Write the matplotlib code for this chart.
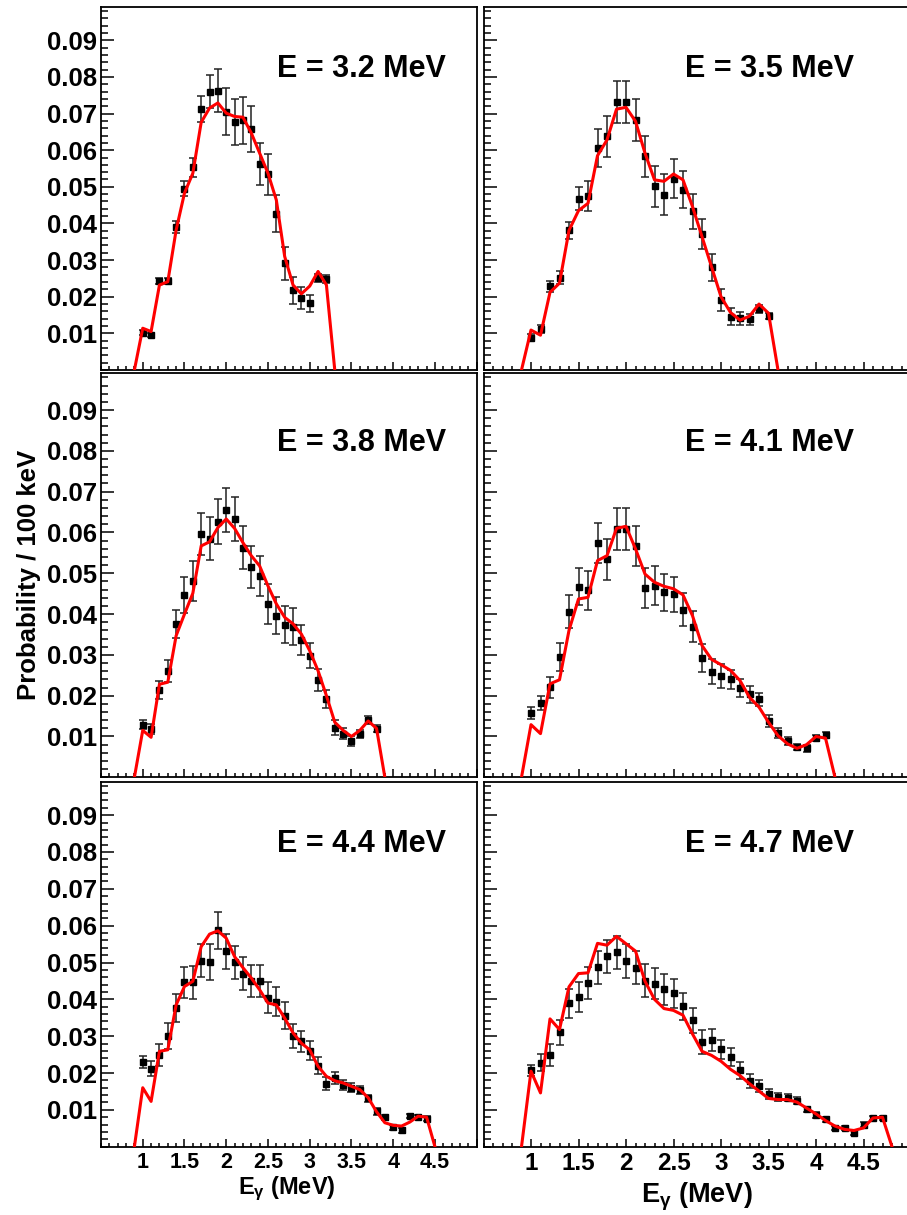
"""Photon spectra for six excitation energies: data points with errors and model curve."""

import matplotlib

matplotlib.use("Agg")
import matplotlib.pyplot as plt
from matplotlib.ticker import MultipleLocator, FixedLocator, NullFormatter

plt.rcParams["font.family"] = ["Liberation Sans", "DejaVu Sans"]
plt.rcParams["font.weight"] = "bold"
plt.rcParams["mathtext.fontset"] = "custom"
plt.rcParams["mathtext.rm"] = "Liberation Sans:bold"
plt.rcParams["mathtext.it"] = "Liberation Sans"
plt.rcParams["mathtext.default"] = "regular"

# photon energy grid (MeV), model curve starts one bin below the first data point
MODEL_X = [0.9, 1.0, 1.1, 1.2, 1.3, 1.4, 1.5, 1.6, 1.7, 1.8, 1.9, 2.0, 2.1, 2.2,
           2.3, 2.4, 2.5, 2.6, 2.7, 2.8, 2.9, 3.0, 3.1, 3.2, 3.3, 3.4, 3.5, 3.6,
           3.7, 3.8, 3.9, 4.0, 4.1, 4.2, 4.3, 4.4, 4.5, 4.6, 4.7, 4.8]

LABELS = ["E = 3.2 MeV", "E = 3.5 MeV", "E = 3.8 MeV",
          "E = 4.1 MeV", "E = 4.4 MeV", "E = 4.7 MeV"]

DATA_32 = [0.0102, 0.0095, 0.0243, 0.0243, 0.0390, 0.0495, 0.0553, 0.0712, 0.0760,
           0.0762, 0.0705, 0.0677, 0.0682, 0.0658, 0.0562, 0.0534, 0.0427, 0.0291,
           0.0217, 0.0197, 0.0182, 0.0252, 0.0248]
ERR_32 = [0.0006, 0.0005, 0.0007, 0.0009, 0.0016, 0.0020, 0.0026, 0.0035, 0.0044,
          0.0059, 0.0064, 0.0064, 0.0064, 0.0062, 0.0058, 0.0055, 0.0051, 0.0046,
          0.0037, 0.0030, 0.0023, 0.0011, 0.0011]
MODEL_32 = [0.0, 0.0114, 0.0105, 0.0232, 0.0241, 0.0382, 0.0483, 0.0537, 0.0676,
            0.0715, 0.0729, 0.0701, 0.0692, 0.0690, 0.0647, 0.0592, 0.0537, 0.0464,
            0.0310, 0.0232, 0.0208, 0.0229, 0.0269, 0.0232, 0.0]

DATA_35 = [0.0088, 0.0111, 0.0228, 0.0252, 0.0381, 0.0468, 0.0474, 0.0605, 0.0638,
           0.0731, 0.0731, 0.0683, 0.0583, 0.0501, 0.0479, 0.0522, 0.0492, 0.0433,
           0.0371, 0.0280, 0.0191, 0.0145, 0.0141, 0.0138, 0.0166, 0.0147]
ERR_35 = [0.0009, 0.0011, 0.0014, 0.0018, 0.0023, 0.0032, 0.0041, 0.0052, 0.0056,
          0.0057, 0.0057, 0.0057, 0.0056, 0.0056, 0.0056, 0.0053, 0.0050, 0.0047,
          0.0041, 0.0036, 0.0030, 0.0023, 0.0018, 0.0015, 0.0011, 0.0009]
MODEL_35 = [0.0, 0.0109, 0.0095, 0.0212, 0.0237, 0.0381, 0.0435, 0.0455, 0.0585,
            0.0628, 0.0712, 0.0717, 0.0679, 0.0592, 0.0519, 0.0515, 0.0535, 0.0519,
            0.0446, 0.0364, 0.0282, 0.0200, 0.0157, 0.0136, 0.0147, 0.0180, 0.0155,
            0.0]

DATA_38 = [0.0129, 0.0119, 0.0213, 0.0261, 0.0376, 0.0447, 0.0481, 0.0596, 0.0585,
           0.0626, 0.0655, 0.0633, 0.0563, 0.0516, 0.0493, 0.0425, 0.0396, 0.0374,
           0.0369, 0.0336, 0.0298, 0.0239, 0.0192, 0.0122, 0.0107, 0.0089, 0.0106,
           0.0140, 0.0119]
ERR_38 = [0.0011, 0.0012, 0.0022, 0.0027, 0.0035, 0.0045, 0.0049, 0.0051, 0.0053,
          0.0055, 0.0055, 0.0053, 0.0053, 0.0051, 0.0049, 0.0049, 0.0046, 0.0045,
          0.0046, 0.0037, 0.0031, 0.0027, 0.0022, 0.0018, 0.0014, 0.0012, 0.0010,
          0.0010, 0.0008]
MODEL_38 = [0.0, 0.0115, 0.0098, 0.0228, 0.0233, 0.0347, 0.0400, 0.0451, 0.0567,
            0.0577, 0.0612, 0.0633, 0.0610, 0.0575, 0.0543, 0.0518, 0.0469, 0.0425,
            0.0392, 0.0376, 0.0351, 0.0310, 0.0261, 0.0200, 0.0135, 0.0115, 0.0100,
            0.0115, 0.0138, 0.0120, 0.0]

DATA_41 = [0.0158, 0.0182, 0.0221, 0.0294, 0.0406, 0.0467, 0.0458, 0.0573, 0.0534,
           0.0609, 0.0609, 0.0568, 0.0465, 0.0470, 0.0453, 0.0449, 0.0411, 0.0369,
           0.0292, 0.0259, 0.0248, 0.0240, 0.0218, 0.0203, 0.0191, 0.0138, 0.0108,
           0.0089, 0.0074, 0.0071, 0.0096, 0.0104]
ERR_41 = [0.0014, 0.0018, 0.0026, 0.0034, 0.0041, 0.0045, 0.0047, 0.0049, 0.0051,
          0.0051, 0.0051, 0.0049, 0.0049, 0.0047, 0.0046, 0.0043, 0.0041, 0.0038,
          0.0034, 0.0031, 0.0029, 0.0024, 0.0022, 0.0020, 0.0016, 0.0014, 0.0012,
          0.0010, 0.0008, 0.0008, 0.0008, 0.0008]
MODEL_41 = [0.0, 0.0129, 0.0107, 0.0229, 0.0239, 0.0360, 0.0437, 0.0441, 0.0531,
            0.0543, 0.0610, 0.0615, 0.0560, 0.0498, 0.0478, 0.0468, 0.0462, 0.0447,
            0.0396, 0.0323, 0.0289, 0.0276, 0.0262, 0.0237, 0.0196, 0.0172, 0.0135,
            0.0102, 0.0082, 0.0071, 0.0080, 0.0100, 0.0096, 0.0]

DATA_44 = [0.0230, 0.0212, 0.0250, 0.0300, 0.0376, 0.0446, 0.0446, 0.0505, 0.0501,
           0.0588, 0.0530, 0.0501, 0.0470, 0.0450, 0.0450, 0.0405, 0.0394, 0.0356,
           0.0300, 0.0286, 0.0261, 0.0220, 0.0171, 0.0187, 0.0167, 0.0160, 0.0153,
           0.0131, 0.0096, 0.0080, 0.0053, 0.0044, 0.0083, 0.0080, 0.0076]
ERR_44 = [0.0016, 0.0020, 0.0030, 0.0036, 0.0038, 0.0041, 0.0045, 0.0045, 0.0048,
          0.0050, 0.0047, 0.0045, 0.0045, 0.0043, 0.0043, 0.0041, 0.0039, 0.0036,
          0.0032, 0.0029, 0.0027, 0.0023, 0.0018, 0.0016, 0.0014, 0.0012, 0.0011,
          0.0009, 0.0009, 0.0007, 0.0007, 0.0007, 0.0006, 0.0006, 0.0006]
MODEL_44 = [0.0, 0.0160, 0.0123, 0.0259, 0.0263, 0.0385, 0.0435, 0.0449, 0.0543,
            0.0577, 0.0586, 0.0566, 0.0516, 0.0486, 0.0458, 0.0426, 0.0390, 0.0385,
            0.0349, 0.0309, 0.0281, 0.0263, 0.0218, 0.0191, 0.0179, 0.0173, 0.0164,
            0.0155, 0.0133, 0.0095, 0.0065, 0.0058, 0.0056, 0.0067, 0.0083, 0.0080,
            0.0]

DATA_47 = [0.0207, 0.0228, 0.0248, 0.0311, 0.0389, 0.0407, 0.0445, 0.0487, 0.0517,
           0.0528, 0.0504, 0.0486, 0.0451, 0.0443, 0.0427, 0.0416, 0.0381, 0.0343,
           0.0284, 0.0289, 0.0264, 0.0243, 0.0208, 0.0178, 0.0164, 0.0143, 0.0135,
           0.0133, 0.0125, 0.0101, 0.0086, 0.0074, 0.0051, 0.0051, 0.0038, 0.0060,
           0.0078, 0.0078]
ERR_47 = [0.0016, 0.0023, 0.0030, 0.0034, 0.0039, 0.0041, 0.0043, 0.0045, 0.0045,
          0.0045, 0.0045, 0.0045, 0.0045, 0.0043, 0.0041, 0.0039, 0.0036, 0.0034,
          0.0032, 0.0030, 0.0027, 0.0024, 0.0023, 0.0018, 0.0016, 0.0014, 0.0011,
          0.0009, 0.0009, 0.0007, 0.0007, 0.0007, 0.0006, 0.0006, 0.0006, 0.0006,
          0.0006, 0.0006]
MODEL_47 = [0.0, 0.0205, 0.0146, 0.0347, 0.0318, 0.0434, 0.0470, 0.0472, 0.0552,
            0.0547, 0.0571, 0.0551, 0.0531, 0.0449, 0.0400, 0.0375, 0.0370, 0.0357,
            0.0306, 0.0259, 0.0248, 0.0232, 0.0210, 0.0193, 0.0171, 0.0151, 0.0131,
            0.0128, 0.0128, 0.0121, 0.0105, 0.0089, 0.0071, 0.0056, 0.0047, 0.0044,
            0.0051, 0.0078, 0.0080, 0.0]

PANELS = [
    (DATA_32, ERR_32, MODEL_32),
    (DATA_35, ERR_35, MODEL_35),
    (DATA_38, ERR_38, MODEL_38),
    (DATA_41, ERR_41, MODEL_41),
    (DATA_44, ERR_44, MODEL_44),
    (DATA_47, ERR_47, MODEL_47),
]

W, H = 907, 1215
ROWS = [(7.3, 370.0), (373.3, 777.3), (782.0, 1146.7)]
COLS = [(101.0, 476.7), (483.5, 911.0)]


def pixel_rect(x0, y0, x1, y1):
    return [x0 / W, 1 - y1 / H, (x1 - x0) / W, (y1 - y0) / H]


fig = plt.figure(figsize=(W / 100, H / 100), dpi=100)

for i, (data, err, model) in enumerate(PANELS):
    row, col = divmod(i, 2)
    (y0, y1), (x0, x1) = ROWS[row], COLS[col]
    ax = fig.add_axes(pixel_rect(x0, y0, x1, y1))

    xd = MODEL_X[1:1 + len(data)]
    xm = MODEL_X[:len(model)]
    ax.plot(xm, model, color="#ff0000", lw=2.2, zorder=3)
    ax.errorbar(xd, data, yerr=err, fmt="s", color="black", ecolor="#222222",
                ms=4.6, elinewidth=1.1, capsize=2.6, capthick=1.1, zorder=2)

    ax.set_xlim(0.5, 5.0)
    ax.set_ylim(0.0, 0.099)
    ax.xaxis.set_major_locator(FixedLocator([1, 1.5, 2, 2.5, 3, 3.5, 4, 4.5, 5]))
    ax.xaxis.set_minor_locator(MultipleLocator(0.1))
    ax.yaxis.set_major_locator(FixedLocator([0.01, 0.02, 0.03, 0.04, 0.05,
                                             0.06, 0.07, 0.08, 0.09]))
    ax.yaxis.set_minor_locator(MultipleLocator(0.002))
    ax.tick_params(axis="both", which="both", direction="in", top=False,
                   right=False, width=1.1)
    ax.tick_params(axis="y", which="major", length=9)
    ax.tick_params(axis="y", which="minor", length=5)
    ax.tick_params(axis="x", which="major", length=6)
    ax.tick_params(axis="x", which="minor", length=3)
    for s in ax.spines.values():
        s.set_linewidth(1.3)

    if col == 0:
        ax.set_yticklabels(["0.01", "0.02", "0.03", "0.04", "0.05",
                            "0.06", "0.07", "0.08", "0.09"])
        ax.tick_params(axis="y", labelsize=18.5, pad=3)
    else:
        ax.yaxis.set_major_formatter(NullFormatter())

    if row == 2:
        fs = 15.5 if col == 0 else 17.5
        ax.set_xticklabels(["1", "1.5", "2", "2.5", "3", "3.5", "4", "4.5", ""])
        ax.tick_params(axis="x", labelsize=fs, pad=4)
    else:
        ax.xaxis.set_major_formatter(NullFormatter())

    tx = 0.468 if col == 0 else 0.472
    ax.text(tx, 0.808, LABELS[i], transform=ax.transAxes, ha="left",
            va="baseline", fontsize=22, fontweight="bold")

# axis titles
fig.text(287 / W, 1 - 1189 / H, r"E$_{\gamma}$ (MeV)", ha="center", va="center",
         fontsize=17, fontweight="bold")
fig.text(697 / W, 1 - 1197 / H, r"E$_{\gamma}$ (MeV)", ha="center", va="center",
         fontsize=19.5, fontweight="bold")
fig.text(29 / W, 1 - 575 / H, "Probability / 100 keV", ha="center", va="center",
         rotation=90, fontsize=18.5, fontweight="bold")

fig.savefig("out.png", dpi=100)
